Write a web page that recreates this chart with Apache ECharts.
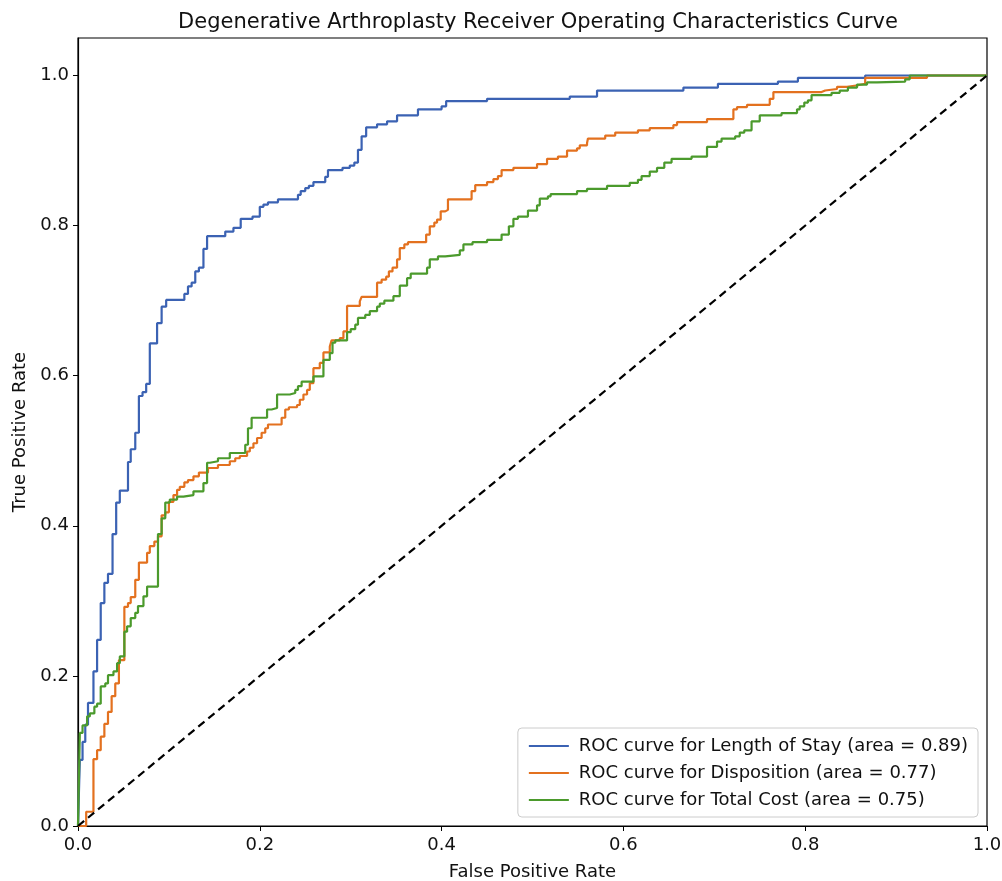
<!DOCTYPE html>
<html>
<head>
<meta charset="utf-8">
<script src="https://cdn.jsdelivr.net/npm/echarts@6/dist/echarts.min.js"></script>
<style>
  html, body { margin: 0; padding: 0; background: #fff; }
  #chart { width: 1002px; height: 881px; }
</style>
</head>
<body>
<div id="chart"></div>
<script>
// ROC curves (fpr / tpr at each step)
const losFpr = [0, 0.002, 0.005, 0.008, 0.011, 0.017, 0.021, 0.025, 0.029, 0.033, 0.038, 0.042, 0.046, 0.055, 0.058, 0.063, 0.067, 0.071, 0.075, 0.079, 0.087, 0.092, 0.097, 0.117, 0.121, 0.125, 0.129, 0.133, 0.138, 0.142, 0.162, 0.171, 0.179, 0.192, 0.200, 0.204, 0.209, 0.220, 0.242, 0.245, 0.250, 0.254, 0.259, 0.272, 0.275, 0.291, 0.299, 0.304, 0.308, 0.312, 0.317, 0.329, 0.340, 0.351, 0.374, 0.400, 0.405, 0.450, 0.541, 0.571, 0.666, 0.704, 0.770, 0.792, 0.866, 1];
const losTpr = [0, 0.088, 0.112, 0.135, 0.164, 0.206, 0.248, 0.297, 0.324, 0.336, 0.389, 0.431, 0.447, 0.485, 0.502, 0.524, 0.573, 0.578, 0.589, 0.643, 0.670, 0.692, 0.701, 0.709, 0.719, 0.724, 0.739, 0.744, 0.769, 0.786, 0.792, 0.797, 0.809, 0.812, 0.825, 0.828, 0.831, 0.835, 0.841, 0.846, 0.850, 0.853, 0.858, 0.865, 0.874, 0.877, 0.880, 0.884, 0.901, 0.919, 0.931, 0.935, 0.939, 0.947, 0.955, 0.959, 0.966, 0.969, 0.972, 0.980, 0.984, 0.989, 0.992, 0.997, 1, 1];

const dispFpr = [0, 0.009, 0.017, 0.021, 0.025, 0.029, 0.033, 0.037, 0.041, 0.045, 0.051, 0.055, 0.058, 0.063, 0.067, 0.076, 0.079, 0.084, 0.088, 0.092, 0.096, 0.100, 0.105, 0.109, 0.112, 0.117, 0.121, 0.127, 0.133, 0.143, 0.154, 0.167, 0.173, 0.178, 0.186, 0.189, 0.193, 0.197, 0.202, 0.206, 0.209, 0.224, 0.228, 0.232, 0.241, 0.244, 0.248, 0.252, 0.255, 0.259, 0.266, 0.270, 0.277, 0.279, 0.288, 0.292, 0.296, 0.310, 0.312, 0.329, 0.334, 0.339, 0.342, 0.346, 0.351, 0.354, 0.359, 0.363, 0.383, 0.387, 0.392, 0.395, 0.399, 0.404, 0.407, 0.433, 0.437, 0.450, 0.457, 0.462, 0.466, 0.479, 0.505, 0.516, 0.528, 0.538, 0.549, 0.552, 0.560, 0.561, 0.580, 0.591, 0.616, 0.629, 0.655, 0.659, 0.692, 0.721, 0.725, 0.736, 0.761, 0.765, 0.818, 0.822, 0.835, 0.846, 0.858, 0.866, 0.934, 1];
const dispTpr = [0, 0.019, 0.089, 0.101, 0.119, 0.136, 0.152, 0.173, 0.190, 0.221, 0.292, 0.297, 0.305, 0.328, 0.351, 0.364, 0.373, 0.379, 0.386, 0.414, 0.418, 0.432, 0.441, 0.448, 0.452, 0.458, 0.461, 0.466, 0.471, 0.477, 0.481, 0.486, 0.490, 0.493, 0.499, 0.504, 0.510, 0.517, 0.524, 0.530, 0.535, 0.544, 0.555, 0.558, 0.561, 0.568, 0.575, 0.581, 0.590, 0.610, 0.617, 0.631, 0.639, 0.647, 0.650, 0.659, 0.693, 0.699, 0.705, 0.724, 0.728, 0.732, 0.739, 0.744, 0.755, 0.770, 0.775, 0.778, 0.788, 0.799, 0.804, 0.808, 0.819, 0.821, 0.835, 0.846, 0.854, 0.858, 0.862, 0.866, 0.874, 0.877, 0.882, 0.889, 0.892, 0.900, 0.903, 0.907, 0.910, 0.916, 0.920, 0.924, 0.927, 0.930, 0.934, 0.938, 0.942, 0.955, 0.958, 0.961, 0.969, 0.978, 0.980, 0.982, 0.985, 0.987, 0.989, 0.997, 1, 1];

const costFpr = [0, 0.002, 0.005, 0.010, 0.013, 0.018, 0.021, 0.025, 0.030, 0.033, 0.039, 0.043, 0.046, 0.051, 0.054, 0.058, 0.063, 0.066, 0.072, 0.076, 0.088, 0.092, 0.096, 0.101, 0.109, 0.116, 0.127, 0.138, 0.142, 0.145, 0.154, 0.167, 0.184, 0.187, 0.191, 0.208, 0.213, 0.219, 0.233, 0.239, 0.242, 0.246, 0.259, 0.270, 0.277, 0.280, 0.283, 0.296, 0.300, 0.305, 0.308, 0.316, 0.321, 0.329, 0.332, 0.337, 0.347, 0.354, 0.362, 0.366, 0.384, 0.387, 0.396, 0.404, 0.420, 0.424, 0.434, 0.450, 0.466, 0.474, 0.479, 0.484, 0.495, 0.505, 0.508, 0.517, 0.520, 0.549, 0.560, 0.582, 0.607, 0.616, 0.620, 0.629, 0.637, 0.645, 0.653, 0.675, 0.692, 0.703, 0.708, 0.723, 0.728, 0.733, 0.741, 0.750, 0.774, 0.791, 0.794, 0.799, 0.803, 0.807, 0.829, 0.838, 0.847, 0.857, 0.868, 0.879, 0.910, 0.915, 1];
const costTpr = [0, 0.124, 0.134, 0.146, 0.150, 0.159, 0.163, 0.186, 0.190, 0.201, 0.206, 0.217, 0.226, 0.259, 0.266, 0.277, 0.284, 0.293, 0.306, 0.319, 0.389, 0.410, 0.431, 0.435, 0.439, 0.441, 0.446, 0.457, 0.484, 0.486, 0.490, 0.497, 0.508, 0.530, 0.544, 0.555, 0.557, 0.575, 0.577, 0.581, 0.586, 0.592, 0.599, 0.621, 0.630, 0.644, 0.647, 0.658, 0.662, 0.668, 0.677, 0.681, 0.686, 0.692, 0.696, 0.700, 0.706, 0.720, 0.730, 0.736, 0.744, 0.755, 0.759, 0.761, 0.767, 0.775, 0.778, 0.781, 0.788, 0.799, 0.809, 0.812, 0.820, 0.827, 0.836, 0.839, 0.842, 0.846, 0.849, 0.853, 0.857, 0.861, 0.866, 0.872, 0.877, 0.884, 0.889, 0.892, 0.905, 0.912, 0.916, 0.919, 0.924, 0.927, 0.939, 0.947, 0.950, 0.955, 0.959, 0.964, 0.967, 0.974, 0.977, 0.980, 0.984, 0.988, 0.991, 0.992, 0.995, 1, 1];

const chanceFpr = [0, 1];
const chanceTpr = [0, 1];

const seriesNames = [
  'ROC curve for Length of Stay (area = 0.89)',
  'ROC curve for Disposition (area = 0.77)',
  'ROC curve for Total Cost (area = 0.75)'
];
const tickValues = [0, 0.2, 0.4, 0.6, 0.8, 1.0];

function zip(xs, ys) {
  return xs.map((x, i) => [x, ys[i]]);
}

const font = 'DejaVu Sans';
const chart = echarts.init(document.getElementById('chart'), null, { renderer: 'canvas' });

function rocSeries(name, xs, ys, color) {
  return {
    name: name,
    type: 'line',
    step: 'end',
    data: zip(xs, ys),
    showSymbol: false,
    symbol: 'none',
    lineStyle: { color: color, width: 2.2 },
    itemStyle: { color: color },
    z: 3
  };
}

const option = {
  animation: false,
  backgroundColor: '#fff',
  title: {
    text: 'Degenerative Arthroplasty Receiver Operating Characteristics Curve',
    left: 533,
    textAlign: 'center',
    top: 7,
    textStyle: { fontFamily: font, fontSize: 21, fontWeight: 'normal', color: '#111' }
  },
  grid: {
    left: 78, right: 15, top: 38, bottom: 55,
    outerBoundsMode: 'none',
    containLabel: false,
    show: true, borderColor: '#000', borderWidth: 1.2, backgroundColor: 'transparent'
  },
  legend: {
    orient: 'vertical',
    right: 24,
    bottom: 64,
    itemWidth: 40,
    itemHeight: 2,
    itemGap: 9,
    padding: [9, 10, 8, 11],
    backgroundColor: '#fff',
    borderColor: '#cccccc',
    borderWidth: 1,
    borderRadius: 4,
    textStyle: { fontFamily: font, fontSize: 18, color: '#111', padding: [0, 0, 0, 5] },
    data: seriesNames.map(n => ({ name: n, icon: 'rect' }))
  },
  xAxis: {
    type: 'value',
    min: 0, max: 1, interval: 0.2,
    name: 'False Positive Rate',
    nameLocation: 'middle',
    nameGap: 37,
    nameTextStyle: { fontFamily: font, fontSize: 18, color: '#111' },
    axisLine: { show: true, lineStyle: { color: '#000', width: 1.2 } },
    axisTick: { show: true, length: 5, lineStyle: { color: '#000' }, customValues: tickValues },
    axisLabel: {
      fontFamily: font, fontSize: 18, color: '#111', margin: 10,
      customValues: tickValues,
      formatter: v => v.toFixed(1)
    },
    splitLine: { show: false }
  },
  yAxis: {
    type: 'value',
    min: 0, max: 1.05, interval: 0.2,
    name: 'True Positive Rate',
    nameLocation: 'middle',
    nameGap: 49,
    nameRotate: 90,
    nameTextStyle: { fontFamily: font, fontSize: 18, color: '#111' },
    axisLine: { show: true, lineStyle: { color: '#000', width: 1.2 } },
    axisTick: { show: true, length: 5, lineStyle: { color: '#000' }, customValues: tickValues },
    axisLabel: {
      fontFamily: font, fontSize: 18, color: '#111', margin: 9,
      customValues: tickValues,
      formatter: v => v.toFixed(1)
    },
    splitLine: { show: false }
  },
  series: [
    rocSeries(seriesNames[0], losFpr, losTpr, '#3b62b3'),
    rocSeries(seriesNames[1], dispFpr, dispTpr, '#e3711f'),
    rocSeries(seriesNames[2], costFpr, costTpr, '#4b9a2c'),
    {
      name: 'chance',
      type: 'line',
      data: zip(chanceFpr, chanceTpr),
      showSymbol: false,
      symbol: 'none',
      lineStyle: { color: '#000', width: 2.2, type: [8, 5] },
      z: 4
    }
  ]
};

chart.setOption(option);
</script>
</body>
</html>
